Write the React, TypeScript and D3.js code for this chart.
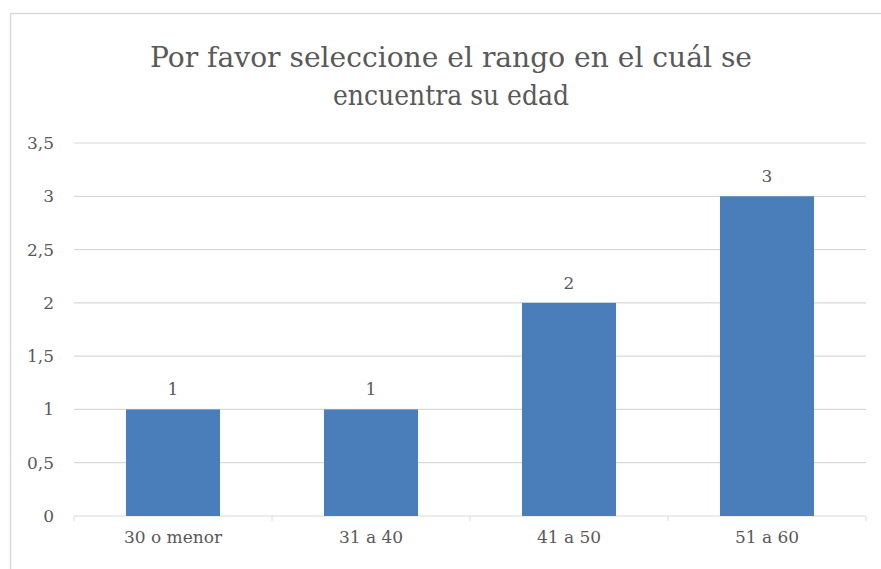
import React from "react";
import * as d3 from "d3";

const categories = ["30 o menor", "31 a 40", "41 a 50", "51 a 60"];
const values = [1, 1, 2, 3];
const yTicks = [0, 0.5, 1, 1.5, 2, 2.5, 3, 3.5];
const titleLines = ["Por favor seleccione el rango en el cuál se", "encuentra su edad"];
const titleWidths = [602, 236];

const W = 881;
const H = 569;
const plot = { left: 74, right: 866, top: 143, bottom: 516 };
const FONT = "DejaVu Serif";
const TEXT = "#595959";

export default function App() {
  const x = d3
    .scaleBand<string>()
    .domain(categories)
    .range([plot.left, plot.right])
    .paddingInner(0.525)
    .paddingOuter(0.2625);
  const y = d3.scaleLinear().domain([0, 3.5]).range([plot.bottom, plot.top]);
  const fmt = (v: number) => String(v).replace(".", ",");
  const step = x.step();
  const boundaries = d3.range(categories.length + 1).map((i) => plot.left + i * step);

  return (
    <svg
      width={W}
      height={H}
      style={{ position: "absolute", left: 0, top: 0, background: "#fff" }}
    >
      <rect x={10.5} y={13.5} width={W + 10} height={H + 10} fill="#fff" stroke="#d9d9d9" strokeWidth={1.5} />
      {titleLines.map((t, i) => (
        <text
          key={i}
          x={451}
          y={67 + i * 38}
          textAnchor="middle"
          fontFamily={FONT}
          fontSize={28}
          fill={TEXT}
          textLength={titleWidths[i]}
          lengthAdjust="spacingAndGlyphs"
        >
          {t}
        </text>
      ))}
      {yTicks.map((t) => (
        <g key={t}>
          <line
            x1={plot.left}
            x2={plot.right}
            y1={y(t)}
            y2={y(t)}
            stroke="#d9d9d9"
            strokeWidth={1.2}
          />
          <text
            x={54}
            y={y(t)}
            dy="0.35em"
            textAnchor="end"
            fontFamily={FONT}
            fontSize={17}
            fill={TEXT}
          >
            {fmt(t)}
          </text>
        </g>
      ))}
      {boundaries.map((bx, i) => (
        <line key={i} x1={bx} x2={bx} y1={y(0)} y2={y(0) + 5} stroke="#d9d9d9" strokeWidth={1} />
      ))}
      {categories.map((c, i) => (
        <g key={c}>
          <rect
            x={x(c)}
            y={y(values[i])}
            width={x.bandwidth()}
            height={y(0) - y(values[i])}
            fill="#4a7ebb"
          />
          <text
            x={(x(c) as number) + x.bandwidth() / 2}
            y={y(values[i]) - 14}
            textAnchor="middle"
            fontFamily={FONT}
            fontSize={17}
            fill={TEXT}
          >
            {values[i]}
          </text>
          <text
            x={(x(c) as number) + x.bandwidth() / 2}
            y={543}
            textAnchor="middle"
            fontFamily={FONT}
            fontSize={17}
            fill={TEXT}
          >
            {c}
          </text>
        </g>
      ))}
    </svg>
  );
}
